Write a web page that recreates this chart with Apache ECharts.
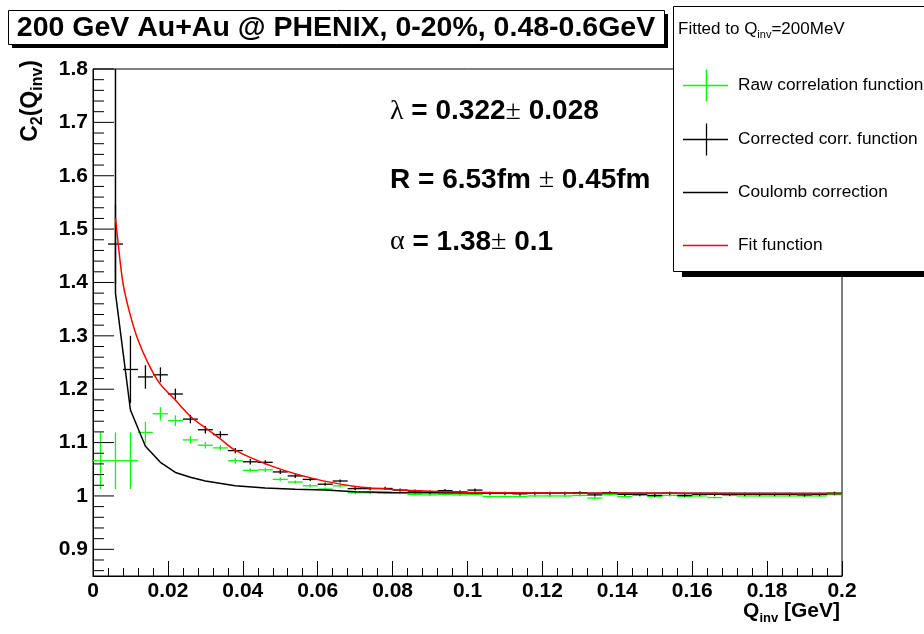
<!DOCTYPE html>
<html><head><meta charset="utf-8">
<script src="https://cdn.jsdelivr.net/npm/echarts@6/dist/echarts.min.js"></script>
<style>html,body{margin:0;padding:0;background:#fff}#c{width:924px;height:634px}</style>
</head><body><div id="c"></div>
<script>
// ---------- data ----------
const qBins = [0.002,0.006,0.010,0.014,0.018,0.022,0.026,0.030,0.034,0.038,
               0.042,0.046,0.050,0.054,0.058,0.062,0.066,0.070,0.074,0.078,
               0.082,0.086,0.090,0.094,0.098,0.102,0.106,0.110,0.114,0.118,
               0.122,0.126,0.130,0.134,0.138,0.142,0.146,0.150,0.154,0.158,
               0.162,0.166,0.170,0.174,0.178,0.182,0.186,0.190,0.194,0.198];
const binHalfWidth = 0.002;

const rawC2 = [1.066,1.066,1.066,1.119,1.154,1.141,1.105,1.095,1.090,1.066,
               1.048,1.049,1.031,1.026,1.019,1.013,1.019,1.006,1.006,1.005,
               1.005,1.003,1.002,1.003,1.002,1.003,0.999,0.999,0.999,1.000,
               1.000,1.000,1.001,0.996,1.0025,0.999,1.001,0.999,1.001,0.999,
               1.000,0.997,1.001,1.000,1.000,1.000,1.000,1.000,1.000,1.0025];
const rawErr = [0.053,0.053,0.053,0.020,0.0125,0.010,0.007,0.006,0.005,0.005,
                0.004,0.004,0.004,0.003,0.003,0.003,0.003,0.003,0.003,0.002,
                0.002,0.002,0.002,0.002,0.002,0.002,0.002,0.002,0.002,0.002,
                0.002,0.002,0.002,0.002,0.002,0.002,0.002,0.002,0.002,0.002,
                0.002,0.002,0.002,0.002,0.002,0.002,0.002,0.002,0.002,0.002];

const corrC2 = [null,1.472,1.237,1.223,1.227,1.191,1.144,1.124,1.115,1.085,
                1.064,1.063,1.045,1.0375,1.031,1.022,1.028,1.0137,1.0137,1.014,
                1.011,1.009,1.007,1.010,1.0075,1.011,1.005,1.005,1.004,1.005,
                1.005,1.005,1.006,1.002,1.006,1.003,1.003,1.001,1.005,1.001,
                1.003,1.003,1.003,1.003,1.003,1.003,1.003,1.002,1.003,1.005];
const corrErr = [null,0.074,0.063,0.022,0.014,0.010,0.008,0.007,0.006,0.005,
                 0.005,0.004,0.004,0.004,0.003,0.003,0.003,0.003,0.003,0.003,
                 0.003,0.003,0.003,0.003,0.003,0.003,0.003,0.003,0.003,0.003,
                 0.003,0.003,0.003,0.003,0.003,0.003,0.003,0.003,0.003,0.003,
                 0.003,0.003,0.003,0.003,0.003,0.003,0.003,0.003,0.003,0.003];

const coulombQ  = [0.006,0.006,0.010,0.014,0.018,0.022,0.026,0.030,0.038,0.046,0.054,0.062,0.070,0.080,0.100,0.120,0.150,0.200];
const coulombC2 = [1.800,1.380,1.161,1.093,1.063,1.044,1.035,1.028,1.019,1.015,1.0125,1.011,1.008,1.0065,1.0055,1.005,1.005,1.0045];

const fitQ  = [0.0060,0.0067,0.0080,0.0098,0.0120,0.0147,0.0178,0.0218,0.0262,0.0307,0.0338,0.0379,0.0485,0.0592,0.0700,0.0750,0.0850,0.1000,0.1200,0.1500,0.2000];
const fitC2 = [1.521,1.474,1.399,1.343,1.2925,1.249,1.211,1.181,1.148,1.124,1.108,1.086,1.054,1.032,1.0175,1.0144,1.010,1.007,1.0055,1.005,1.0045];

const xTickValues = [0,0.02,0.04,0.06,0.08,0.1,0.12,0.14,0.16,0.18,0.2];
const xTickLabels = ['0','0.02','0.04','0.06','0.08','0.1','0.12','0.14','0.16','0.18','0.2'];
const yMajorTicks = [0.9,1.0,1.1,1.2,1.3,1.4,1.5,1.6,1.7,1.8];
const yTickLabels = ['0.9','1','1.1','1.2','1.3','1.4','1.5','1.6','1.7','1.8'];
const yMinorTicks = [0.86,0.88,0.92,0.94,0.96,0.98,1.02,1.04,1.06,1.08,1.12,1.14,1.16,1.18,
                     1.22,1.24,1.26,1.28,1.32,1.34,1.36,1.38,1.42,1.44,1.46,1.48,1.52,1.54,1.56,1.58,
                     1.62,1.64,1.66,1.68,1.72,1.74,1.76,1.78];

const titleText = '200 GeV Au+Au @ PHENIX, 0-20%, 0.48-0.6GeV';
const legendHeader = 'Fitted to Q{sub|inv}=200MeV';
const legendLabels = ['Raw correlation function','Corrected corr. function','Coulomb correction','Fit function'];
const paramLines = ['{sym|λ} = 0.322{sym|±} 0.028','R = 6.53fm {sym|±} 0.45fm','{sym|α} = 1.38{sym|±} 0.1'];

// ---------- build ----------
const FONT = 'Liberation Sans, Arial, sans-serif';
const GREEN = '#00ff00';

function errorBarSeries(name, c2, err, color) {
  const data = [];
  qBins.forEach((q, i) => { if (c2[i] != null) data.push([q, c2[i], err[i]]); });
  return {
    name, type: 'custom', data, z: 3, silent: true,
    renderItem(params, api) {
      const x = api.value(0), y = api.value(1), e = api.value(2);
      const pl = api.coord([x - binHalfWidth, y]), pr = api.coord([x + binHalfWidth, y]);
      const pt = api.coord([x, y + e]), pb = api.coord([x, y - e]);
      const st = { stroke: color, lineWidth: 1.3 };
      return { type: 'group', children: [
        { type: 'line', shape: { x1: pl[0], y1: pl[1], x2: pr[0], y2: pr[1] }, style: st },
        { type: 'line', shape: { x1: pt[0], y1: pt[1], x2: pb[0], y2: pb[1] }, style: st }
      ]};
    },
    encode: { x: 0, y: 1 }
  };
}

function yTickSeries(values, len) {
  return {
    type: 'custom', silent: true, z: 5,
    data: values.map(v => [0, v]),
    renderItem(params, api) {
      const p = api.coord([0, api.value(1)]);
      return { type: 'line', shape: { x1: p[0], y1: p[1], x2: p[0] + len, y2: p[1] },
               style: { stroke: '#000', lineWidth: 1 } };
    },
    encode: { x: 0, y: 1 }
  };
}

const chart = echarts.init(document.getElementById('c'), null, { renderer: 'canvas' });

const legendY = [85.5, 139.5, 192.5, 245.5];
const graphics = [
  // title box
  { type: 'rect', shape: { x: 12, y: 14, width: 656, height: 34 }, style: { fill: '#000' }, z: 100 },
  { type: 'rect', shape: { x: 8.5, y: 10.5, width: 656, height: 34 }, style: { fill: '#fff', stroke: '#000', lineWidth: 1 }, z: 101 },
  { type: 'text', x: 336, y: 28, z: 102,
    style: { text: titleText, font: 'bold 28.5px ' + FONT, fill: '#000', align: 'center', verticalAlign: 'middle' } },
  // legend box
  { type: 'rect', shape: { x: 682, y: 12, width: 260, height: 265 }, style: { fill: '#000' }, z: 100 },
  { type: 'rect', shape: { x: 673.5, y: 6.5, width: 270, height: 265 }, style: { fill: '#fff', stroke: '#000', lineWidth: 1 }, z: 101 },
  { type: 'text', x: 678, y: 29, z: 102,
    style: { text: legendHeader, fill: '#000', verticalAlign: 'middle', align: 'left',
      font: '17px ' + FONT,
      rich: { sub: { fontSize: 11, fontFamily: FONT, verticalAlign: 'bottom', lineHeight: 22 } } } },
  // legend markers
  { type: 'line', shape: { x1: 683, y1: legendY[0], x2: 728, y2: legendY[0] }, style: { stroke: GREEN, lineWidth: 1.5 }, z: 102 },
  { type: 'line', shape: { x1: 706.5, y1: legendY[0] - 16, x2: 706.5, y2: legendY[0] + 16 }, style: { stroke: GREEN, lineWidth: 1.5 }, z: 102 },
  { type: 'line', shape: { x1: 683, y1: legendY[1], x2: 728, y2: legendY[1] }, style: { stroke: '#000', lineWidth: 1.3 }, z: 102 },
  { type: 'line', shape: { x1: 706.5, y1: legendY[1] - 16, x2: 706.5, y2: legendY[1] + 16 }, style: { stroke: '#000', lineWidth: 1.3 }, z: 102 },
  { type: 'line', shape: { x1: 683, y1: legendY[2], x2: 728, y2: legendY[2] }, style: { stroke: '#000', lineWidth: 1.3 }, z: 102 },
  { type: 'line', shape: { x1: 683, y1: legendY[3], x2: 728, y2: legendY[3] }, style: { stroke: '#ff0000', lineWidth: 1.5 }, z: 102 },
];
legendLabels.forEach((t, i) => graphics.push({ type: 'text', x: 738, y: legendY[i], z: 102,
  style: { text: t, font: '17.3px ' + FONT, fill: '#000', align: 'left', verticalAlign: 'middle' } }));
// fit parameter text
[111.5, 180, 242].forEach((y, i) => graphics.push({ type: 'text', x: 390, y, z: 50,
  style: { text: paramLines[i], fill: '#000', align: 'left', verticalAlign: 'middle',
    font: 'bold 28px ' + FONT,
    rich: { sym: { fontFamily: 'Liberation Serif, DejaVu Serif, serif', fontWeight: 'normal', fontSize: 28 } } } }));
// axis titles
graphics.push({ type: 'text', x: 31, y: 60, rotation: Math.PI / 2, z: 50,
  style: { text: 'C{sub|2}(Q{sub|inv})', fill: '#000', align: 'right', verticalAlign: 'middle',
    font: 'bold 23px ' + FONT,
    rich: { sub: { fontSize: 16, fontWeight: 'bold', fontFamily: FONT, verticalAlign: 'bottom', lineHeight: 30 } } } });
graphics.push({ type: 'text', x: 840, y: 611, z: 50,
  style: { text: 'Q{sub|inv} [GeV]', fill: '#000', align: 'right', verticalAlign: 'middle',
    font: 'bold 21px ' + FONT,
    rich: { sub: { fontSize: 13, fontWeight: 'bold', fontFamily: FONT, verticalAlign: 'bottom', lineHeight: 28 } } } });

const option = {
  animation: false,
  backgroundColor: '#fff',
  grid: { left: 93, right: 82, top: 69, bottom: 58, show: true, borderColor: '#000', borderWidth: 1, backgroundColor: '#fff' },
  xAxis: {
    type: 'value', min: 0, max: 0.2, interval: 0.02,
    axisLine: { show: true, onZero: false, lineStyle: { color: '#000', width: 1 } },
    axisTick: { show: true, inside: true, length: 15, lineStyle: { color: '#000' } },
    minorTick: { show: true, splitNumber: 5, length: 8, lineStyle: { color: '#000' } },
    splitLine: { show: false },
    axisLabel: { margin: 5, color: '#000', fontFamily: FONT, fontWeight: 'bold', fontSize: 21,
      showMinLabel: true, showMaxLabel: true, hideOverlap: false,
      formatter: v => { const i = xTickValues.findIndex(t => Math.abs(t - v) < 1e-9); return i >= 0 ? xTickLabels[i] : ''; } }
  },
  yAxis: {
    type: 'value', min: 0.85, max: 1.8, interval: 0.05,
    axisLine: { show: true, onZero: false, lineStyle: { color: '#000', width: 1 } },
    axisTick: { show: false },
    splitLine: { show: false },
    axisLabel: { margin: 5, color: '#000', fontFamily: FONT, fontWeight: 'bold', fontSize: 21,
      showMinLabel: true, showMaxLabel: true, hideOverlap: false,
      formatter: v => { const i = yMajorTicks.findIndex(t => Math.abs(t - v) < 1e-6); return i >= 0 ? yTickLabels[i] : ''; } }
  },
  series: [
    yTickSeries(yMajorTicks, 21),
    yTickSeries(yMinorTicks, 11),
    errorBarSeries('Raw correlation function', rawC2, rawErr, GREEN),
    errorBarSeries('Corrected corr. function', corrC2, corrErr, '#000'),
    { name: 'Coulomb correction', type: 'line', showSymbol: false, symbol: 'none', z: 4, clip: true,
      data: coulombQ.map((q, i) => [q, coulombC2[i]]),
      lineStyle: { color: '#000', width: 1.5 } },
    { name: 'Fit function', type: 'line', showSymbol: false, symbol: 'none', z: 4, smooth: 0.3, clip: true,
      data: fitQ.map((q, i) => [q, fitC2[i]]),
      lineStyle: { color: '#ff0000', width: 1.5 } }
  ],
  graphic: { elements: graphics }
};
chart.setOption(option);
</script></body></html>
